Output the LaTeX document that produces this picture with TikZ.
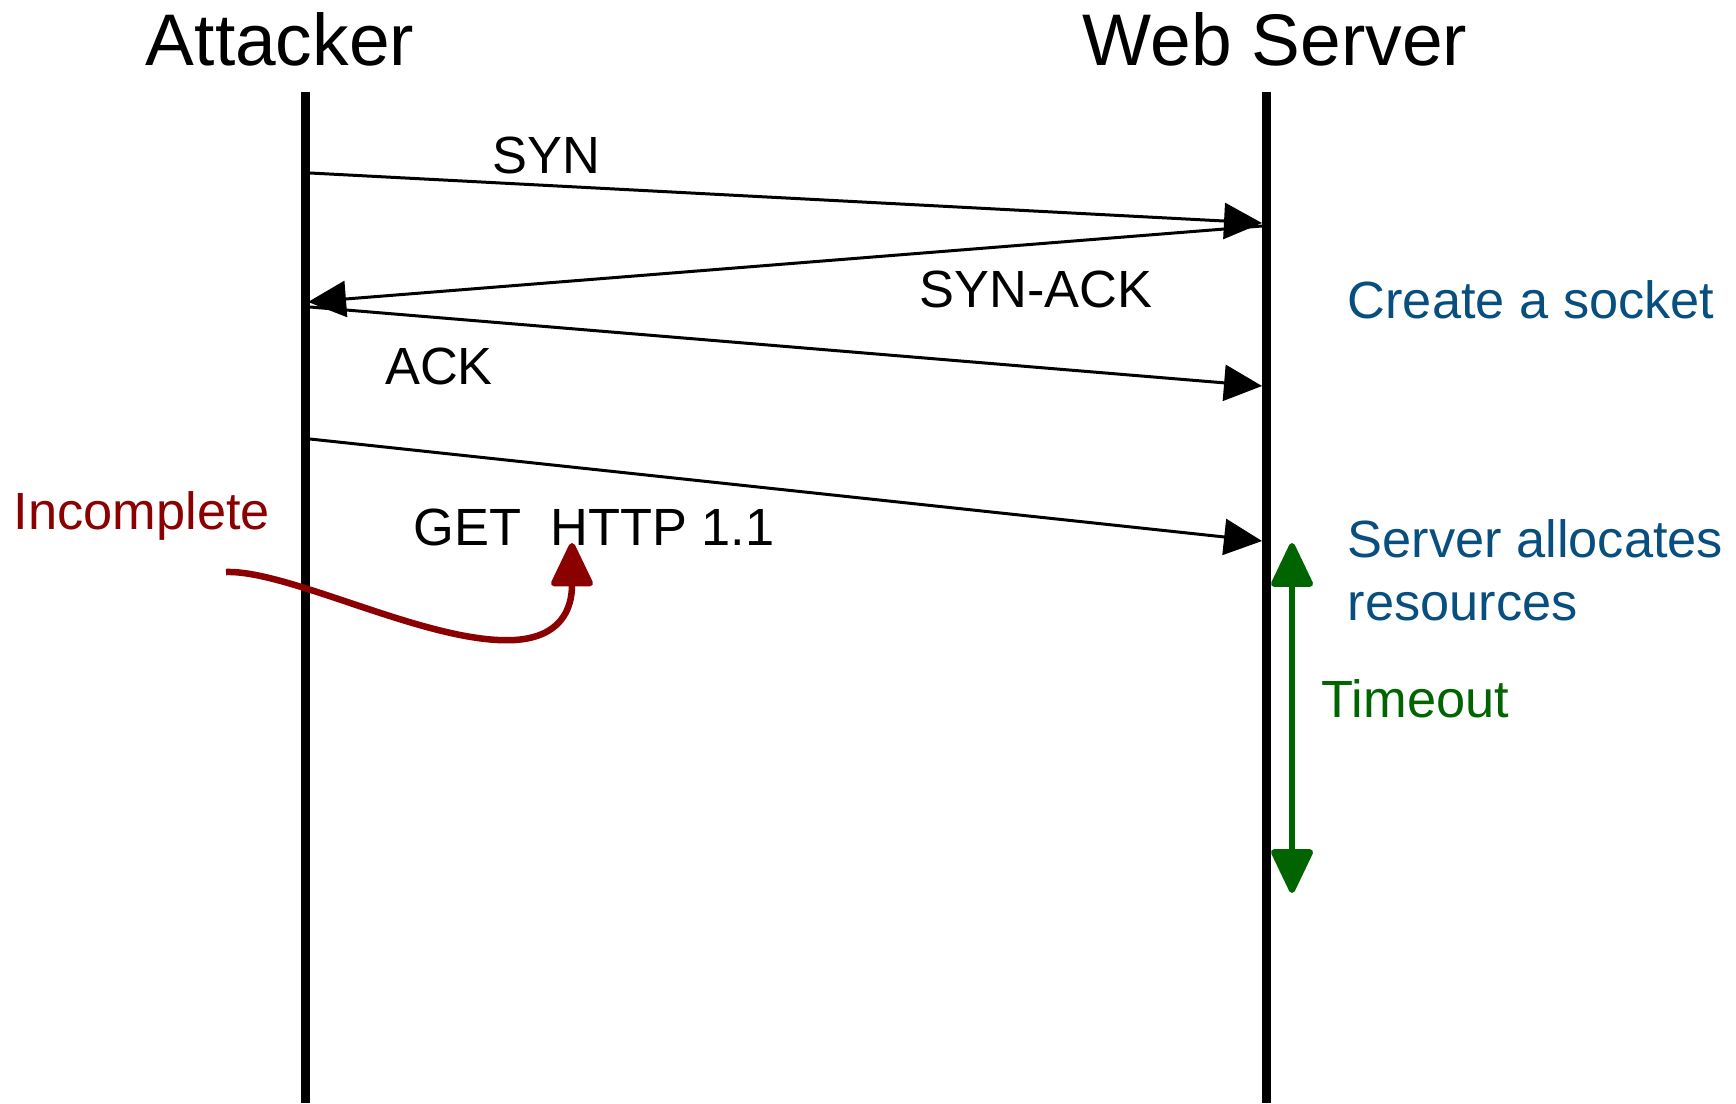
\documentclass[tikz,border=0pt]{standalone}
\usepackage{fontspec}
\setmainfont{Liberation Sans}
\usetikzlibrary{arrows.meta}

\definecolor{sockblue}{RGB}{8,79,128}
\definecolor{timegreen}{RGB}{0,100,0}
\definecolor{incred}{RGB}{139,0,0}

\begin{document}
\begin{tikzpicture}[
    %% ── node styles ──────────────────────────────────────────
    head/.style  = {inner sep=0pt, anchor=base,
                    font=\fontsize{20.8}{25}\selectfont},
    lbl/.style   = {inner sep=0pt, font=\fontsize{14.9}{17.9}\selectfont},
    note/.style  = {lbl, anchor=base west, align=left},
    %% ── line styles ──────────────────────────────────────────
    life/.style  = {line width=0.09cm},
    msg/.style   = {-{Triangle[length=0.38cm, width=0.36cm]}, line width=0.03cm},
    timearr/.style = {{Triangle[length=0.48cm, width=0.44cm, round]}-{Triangle[length=0.48cm, width=0.44cm, round]},
                    line width=0.06cm, timegreen, line join=round},
    incarr/.style  = {-{Triangle[length=0.48cm, width=0.44cm, round]},
                    line width=0.065cm, incred, line join=round}
]
\useasboundingbox (0,0) rectangle (17.36,-11.03);

%% ── Headers ──────────────────────────────────────────────────
\node[head] (att) at (2.80,-0.66) {Attacker};
\node[head] (srv) at (12.75,-0.66) {Web Server};

%% ── Lifelines ────────────────────────────────────────────────
\coordinate (atop) at (3.05,-0.92);
\coordinate (abot) at (3.05,-11.03);
\coordinate (stop) at (12.66,-0.92);
\coordinate (sbot) at (12.66,-11.03);
\draw[life] (atop) -- (abot);
\draw[life] (stop) -- (sbot);

%% ── Message end points ───────────────────────────────────────
\coordinate (syn-a) at (3.10,-1.73);
\coordinate (syn-s) at (12.62,-2.23);
\coordinate (sa-s)  at (12.62,-2.26);
\coordinate (sa-a)  at (3.08,-3.02);
\coordinate (ack-a) at (3.10,-3.07);
\coordinate (ack-s) at (12.62,-3.86);
\coordinate (get-a) at (3.10,-4.39);
\coordinate (get-s) at (12.62,-5.41);

%% ── Messages ─────────────────────────────────────────────────
\draw[msg] (syn-a) -- (syn-s);
\draw[msg] (sa-s)  -- (sa-a);
\draw[msg] (ack-a) -- (ack-s);
\draw[msg] (get-a) -- (get-s);

\node[lbl, anchor=base] (syn)    at (5.46,-1.73)  {SYN};
\node[lbl, anchor=base] (synack) at (10.36,-3.07) {SYN-ACK};
\node[lbl, anchor=base] (ack)    at (4.39,-3.84)  {ACK};
\node[lbl, anchor=base west] (get) at (4.13,-5.45) {GET\ \ HTTP 1.1};

%% ── Server side notes ────────────────────────────────────────
\node[note, text=sockblue] (sock)  at (13.47,-3.18) {Create a socket};
\node[note, text=sockblue] (alloc) at (13.47,-6.20) {Server allocates\\resources};
\node[note, text=timegreen] (tout) at (13.21,-7.17) {Timeout};

\coordinate (to-top) at (12.92,-5.43);
\coordinate (to-bot) at (12.92,-8.93);
\draw[timearr] (to-top) -- (to-bot);

%% ── Incomplete request ───────────────────────────────────────
\node[note, text=incred] (inc) at (0.13,-5.29) {Incomplete};

\coordinate (inc-start) at (2.26,-5.72);
\coordinate (inc-tip)   at (5.72,-5.43);
\draw[incarr] (inc-start) .. controls (2.9,-5.70) and (4.3,-6.45) .. (5.15,-6.40)
    .. controls (5.6,-6.37) and (5.72,-6.1) .. (inc-tip);

\end{tikzpicture}
\end{document}
